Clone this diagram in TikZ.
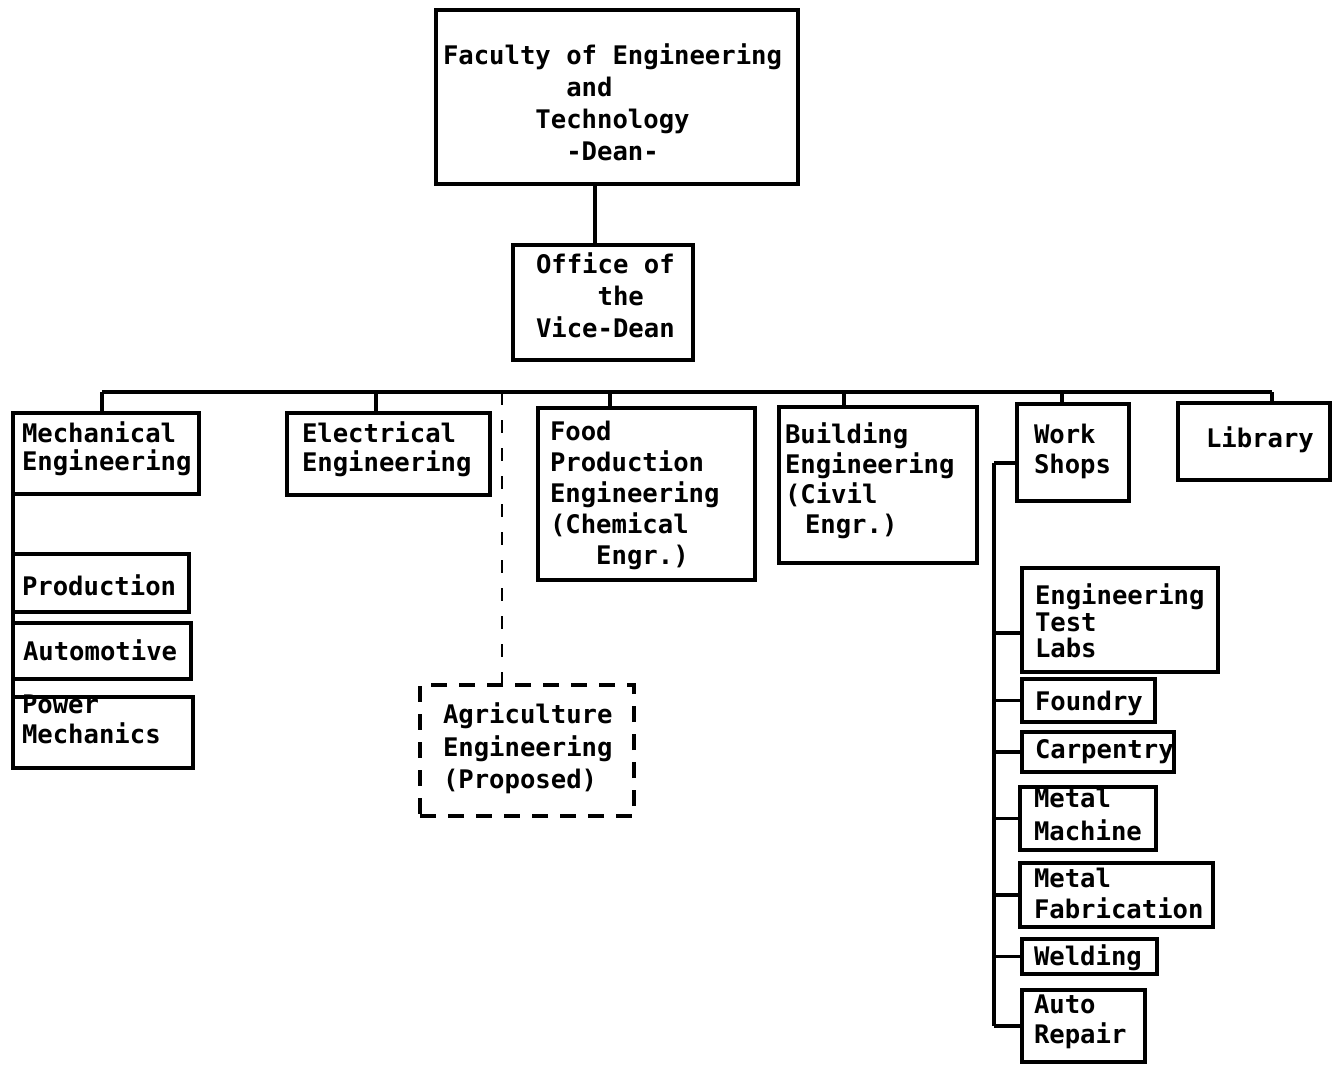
\documentclass[tikz,border=0pt]{standalone}
\usepackage{fontspec}
\newfontfamily\orgfont{DejaVu Sans Mono}
\newlength\pxu
\setlength\pxu{0.75pt}
% #1 width, #2 height, #3 left pad, #4 first baseline from top, #5 baselineskip (all px), #6 text
\newcommand\bt[6]{\begin{minipage}[c][#2\pxu][t]{#1\pxu}\fontsize{19.2}{#5\pxu}\selectfont\leftskip=#3\pxu\relax\vspace*{\dimexpr#4\pxu-20\pxu\relax}\rule{0pt}{20\pxu}#6\end{minipage}}
\newcommand\ind[1]{\hspace*{#1\fontcharwd\font`0 }}
\begin{document}
\begin{tikzpicture}[x=0.75pt,y=-0.75pt,
  box/.style={draw, line width=2.5pt, inner sep=0pt, outer sep=0pt, anchor=north west, font=\orgfont\bfseries},
  dashbox/.style={box, dash pattern=on 12pt off 9pt},
  link/.style={line width=2.5pt},
  dlink/.style={link, line width=2pt, dash pattern=on 10pt off 11pt}]
\useasboundingbox (0,0) rectangle (1332,1066);

\node[box] (dean) at (436,10) {\bt{362}{174}{7}{54}{32}{Faculty of Engineering\\\ind{8}and\\\ind{6}Technology\\\ind{8}-Dean-}};
\node[box] (vice) at (513,245) {\bt{180}{115}{23}{28}{32}{Office of\\\ind{4}the\\Vice-Dean}};

\node[box] (mech) at (13,413) {\bt{186}{81}{9}{29}{28}{Mechanical\\Engineering}};
\node[box] (elec) at (287,413) {\bt{203}{82}{15}{29}{29}{Electrical\\Engineering}};
\node[box] (food) at (538,408) {\bt{217}{172}{12}{32}{31}{Food\\Production\\Engineering\\(Chemical\\\ind{3}Engr.)}};
\node[box] (build) at (779,407) {\bt{198}{156}{6}{36}{30}{Building\\Engineering\\(Civil\\\hspace*{20\pxu}Engr.)}};
\node[box] (work) at (1017,404) {\bt{112}{97}{17}{39}{30}{Work\\Shops}};
\node[box] (lib) at (1178,403) {\bt{152}{77}{28}{44}{30}{Library}};

\node[box] (prod) at (13,554) {\bt{176}{58}{9}{41}{30}{Production}};
\node[box] (autom) at (13,623) {\bt{178}{56}{10}{37}{30}{Automotive}};
\node[box] (power) at (13,697) {\bt{180}{71}{9}{16}{30}{Power\\Mechanics}};

\node[dashbox] (agri) at (420,685) {\bt{214}{131}{23}{38}{32.5}{Agriculture\\Engineering\\(Proposed)}};

\node[box] (etl) at (1022,568) {\bt{196}{104}{13}{36}{26.5}{Engineering\\Test\\Labs}};
\node[box] (found) at (1022,679) {\bt{133}{43}{13}{31}{30}{Foundry}};
\node[box] (carp) at (1022,732) {\bt{152}{40}{13}{26}{30}{Carpentry}};
\node[box] (mmach) at (1020,787) {\bt{136}{63}{14}{20}{33}{Metal\\Machine}};
\node[box] (mfab) at (1020,863) {\bt{193}{64}{14}{24}{31}{Metal\\Fabrication}};
\node[box] (weld) at (1022,939) {\bt{135}{35}{12}{26}{30}{Welding}};
\node[box] (arep) at (1022,990) {\bt{123}{72}{12}{23}{30}{Auto\\Repair}};

% dean to vice-dean
\coordinate (dv) at (595,0);
\draw[link] (dean.south -| dv) -- (vice.north -| dv);

% bus
\coordinate (dmech) at (102,392);
\coordinate (delec) at (376,392);
\coordinate (dagri) at (502,392);
\coordinate (dfood) at (610,392);
\coordinate (dbuild) at (844,392);
\coordinate (dwork) at (1062,392);
\coordinate (dlib) at (1272,392);
\draw[link] (dmech) -- (dlib);
\draw[link] (dmech) -- (dmech |- mech.north);
\draw[link] (delec) -- (delec |- elec.north);
\draw[link] (dfood) -- (dfood |- food.north);
\draw[link] (dbuild) -- (dbuild |- build.north);
\draw[link] (dwork) -- (dwork |- work.north);
\draw[link] (dlib) -- (dlib |- lib.north);
\draw[dlink] (dagri) -- (dagri |- agri.north);

% mechanical sections
\draw[link] (mech.south west) -- (power.north west);

% workshops
\coordinate (ws) at (994,463);
\coordinate (etlc) at ([yshift=-9.75pt]etl.west);
\draw[link] (ws) -- (ws -| work.west);
\draw[link] (ws) -- (ws |- arep.west);
\draw[link] (etlc -| ws) -- (etlc);
\draw[link] (found.west -| ws) -- (found.west);
\draw[link] (carp.west -| ws) -- (carp.west);
\draw[link] (mmach.west -| ws) -- (mmach.west);
\draw[link] (mfab.west -| ws) -- (mfab.west);
\draw[link] (weld.west -| ws) -- (weld.west);
\draw[link] (arep.west -| ws) -- (arep.west);
\end{tikzpicture}
\end{document}
